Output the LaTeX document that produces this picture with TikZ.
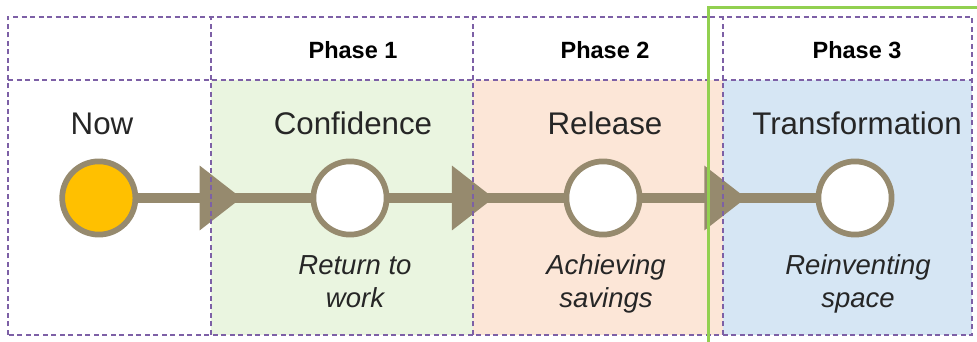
\documentclass[tikz,border=0pt]{standalone}
\usepackage{fontspec}
\setmainfont{Liberation Sans}
\usetikzlibrary{arrows.meta, positioning, decorations.markings}
\definecolor{cinta}{HTML}{968A6E}
\definecolor{ambar}{HTML}{FFC000}
\definecolor{lila}{HTML}{7D60A6}
\definecolor{lima}{HTML}{92D050}
\definecolor{tinta}{HTML}{262626}
\definecolor{fondouno}{HTML}{EAF5E0}
\definecolor{fondodos}{HTML}{FCE6D7}
\definecolor{fondotres}{HTML}{D6E6F4}
\tikzstyle{hito} = [circle, draw=cinta, line width=5.7pt, minimum size=73.2pt, inner sep=0pt, fill=white]
\tikzstyle{flecha} = [draw, color=cinta, line width=10.5pt, postaction={decorate}, decoration={markings, mark=at position 0.6 with {\arrow{Triangle[length=42pt,width=62pt]}}}]
\tikzstyle{rejilla} = [draw=lila, line width=1.3pt, dash pattern=on 5pt off 3.5pt]
\tikzstyle{etapa} = [text=tinta, inner sep=0pt, anchor=base, font=\fontsize{31.3}{36}\selectfont]
\tikzstyle{fase} = [text=black, inner sep=0pt, anchor=base, font=\fontsize{23.5}{28}\selectfont\bfseries]
\tikzstyle{nota} = [text=tinta, inner sep=0pt, anchor=base, align=center, font=\fontsize{27.5}{33}\selectfont\itshape]

\begin{document}
\begin{tikzpicture}[x=1pt, y=1pt]
	\useasboundingbox (0,0) rectangle (977,342);
	% fondos de las fases
	\fill[fondouno] (211,7) rectangle (473,262);
	\fill[fondodos] (473,7) rectangle (723,262);
	\fill[fondotres] (723,7) rectangle (972,262);
	% hitos
	\node[hito, fill=ambar] (now) at (98.8,144) {};
	\node[hito] (conf) at (350,144) {};
	\node[hito] (rel) at (603,144) {};
	\node[hito] (trans) at (855,144) {};
	\draw[flecha] (now) -- (conf);
	\draw[flecha] (conf) -- (rel);
	\draw[flecha] (rel) -- (trans);
	% rejilla
	\draw[rejilla] (8,7) rectangle (972,325);
	\draw[rejilla] (8,262) -- (972,262);
	\draw[rejilla] (211,7) -- (211,325);
	\draw[rejilla] (473,7) -- (473,325);
	\draw[rejilla] (723,7) -- (723,325);
	\draw[lima, line width=3pt] (708,0) -- (708,334) -- (977,334);
	% textos
	\node[fase] (f1) at (353,283) {Phase 1};
	\node[fase] (f2) at (605,283) {Phase 2};
	\node[fase] (f3) at (857,283) {Phase 3};
	\node[etapa] (tnow) at (102,207) {Now};
	\node[etapa] (tconf) at (353,207) {Confidence};
	\node[etapa] (trel) at (605,207) {Release};
	\node[etapa] (ttrans) at (857,207) {Transformation};
	\node[nota] (nconf) at (355,34) {Return to\\work};
	\node[nota] (nrel) at (606,34) {Achieving\\savings};
	\node[nota] (ntrans) at (858,34) {Reinventing\\space};
\end{tikzpicture}
\end{document}
